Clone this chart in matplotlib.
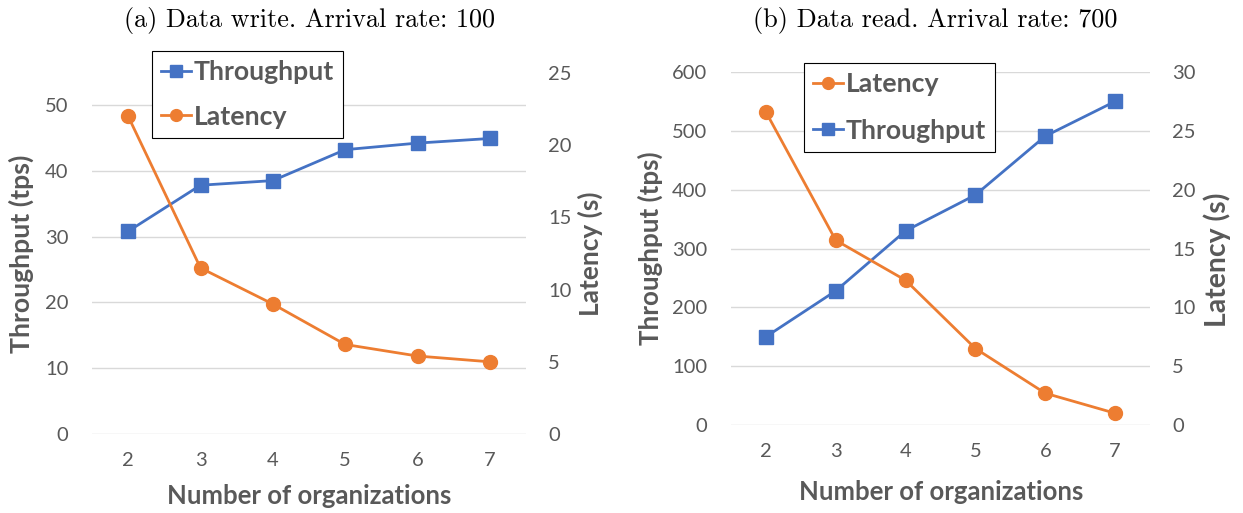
import matplotlib
matplotlib.use("Agg")
import matplotlib.pyplot as plt

orgs = [2, 3, 4, 5, 6, 7]

write_throughput = [30.8, 37.8, 38.5, 43.2, 44.2, 44.9]
write_latency = [22.0, 11.5, 9.0, 6.2, 5.4, 5.0]

read_throughput = [150, 228, 330, 391, 491, 550]
read_latency = [26.6, 15.7, 12.3, 6.5, 2.7, 1.0]

titles = ["(a) Data write. Arrival rate: 100", "(b) Data read. Arrival rate: 700"]
xlabel = "Number of organizations"
ylabel_left = "Throughput (tps)"
ylabel_right = "Latency (s)"

BLUE = "#4472C4"
ORANGE = "#ED7D31"
GRAY = "#595959"
GRID = "#D9D9D9"
SANS = "Lato"
SERIF = "cmr10"

W, H = 1243, 513
fig = plt.figure(figsize=(W / 100, H / 100), dpi=100)
renderer = fig.canvas.get_renderer()


def px_axes(x0, y0, x1, y1):
    return [x0 / W, 1 - y1 / H, (x1 - x0) / W, (y1 - y0) / H]


def fit_size(s, target, **props):
    t = fig.text(0, 0, s, fontsize=10, **props)
    w = t.get_window_extent(renderer).width
    t.remove()
    return 10 * target / w


def ftext(x, y, s, **kw):
    return fig.text(x / W, 1 - y / H, s, ha="center", va="center", **kw)


def style(ax, pad):
    for s in ax.spines.values():
        s.set_visible(False)
    ax.tick_params(axis="y", length=0, labelsize=14.5, labelcolor=GRAY, pad=pad)
    ax.tick_params(axis="x", length=0, labelsize=14.5, labelcolor=GRAY, pad=13)
    for lab in ax.get_xticklabels() + ax.get_yticklabels():
        lab.set_fontfamily(SANS)


bold = dict(family=SANS, weight="bold")

configs = [
    dict(rect=(92, 73, 526, 434), tp=write_throughput, lat=write_latency,
         tp_lim=(0, 54.85), tp_ticks=[0, 10, 20, 30, 40, 50],
         lat_lim=(0, 25), lat_ticks=[0, 5, 10, 15, 20, 25],
         order=["tp", "lat"], leg=(152, 51), leg_w=141, leg_sp=0.76,
         title=titles[0], title_xy=(309, 20), title_w=370,
         xl_xy=(309, 496), xl_w=285,
         yl_xy=(21, 254), yl_w=198, yr_xy=(590, 254), yr_w=125),
    dict(rect=(731, 72, 1150, 425), tp=read_throughput, lat=read_latency,
         tp_lim=(0, 600), tp_ticks=[0, 100, 200, 300, 400, 500, 600],
         lat_lim=(0, 30), lat_ticks=[0, 5, 10, 15, 20, 25, 30],
         order=["lat", "tp"], leg=(804, 63), leg_w=141, leg_sp=0.84,
         title=titles[1], title_xy=(935, 20), title_w=365,
         xl_xy=(941, 492), xl_w=285,
         yl_xy=(650, 248), yl_w=193, yr_xy=(1217, 260), yr_w=135),
]

for c in configs:
    ax = fig.add_axes(px_axes(*c["rect"]))
    ax2 = ax.twinx()
    ax.set_xlim(1.5, 7.5)
    ax.set_ylim(*c["tp_lim"])
    ax.set_yticks(c["tp_ticks"])
    ax2.set_ylim(*c["lat_lim"])
    ax2.set_yticks(c["lat_ticks"])
    ax.set_xticks(orgs)
    ax.yaxis.grid(True, color=GRID, linewidth=1)
    ax.set_axisbelow(True)

    h_tp, = ax.plot(orgs, c["tp"], color=BLUE, marker="s", markersize=9.5,
                    linewidth=2, label="Throughput")
    h_lat, = ax2.plot(orgs, c["lat"], color=ORANGE, marker="o", markersize=10,
                      linewidth=2, label="Latency")
    style(ax, 17)
    style(ax2, 16)

    ts = fit_size(c["title"], c["title_w"], family=SERIF)
    ftext(*c["title_xy"], c["title"], family=SERIF, fontsize=ts, color="black")
    xs = fit_size(xlabel, c["xl_w"], **bold)
    ftext(*c["xl_xy"], xlabel, fontsize=xs, color=GRAY, **bold)
    ys = fit_size(ylabel_left, c["yl_w"], **bold)
    ftext(*c["yl_xy"], ylabel_left, fontsize=ys, color=GRAY, rotation=90, **bold)
    rs = fit_size(ylabel_right, c["yr_w"], **bold)
    ftext(*c["yr_xy"], ylabel_right, fontsize=rs, color=GRAY, rotation=90, **bold)

    ls = fit_size("Throughput", c["leg_w"], **bold)
    hmap = {"tp": h_tp, "lat": h_lat}
    handles = [hmap[k] for k in c["order"]]
    leg = ax2.legend(handles=handles, loc="upper left",
                     bbox_to_anchor=(c["leg"][0] / W, 1 - c["leg"][1] / H),
                     bbox_transform=fig.transFigure, borderaxespad=0,
                     frameon=True, fancybox=False, framealpha=1,
                     edgecolor="black", handlelength=1.1, handletextpad=0.12,
                     labelspacing=c["leg_sp"], borderpad=0.35, markerscale=0.85,
                     prop=dict(family=SANS, weight="bold", size=ls))
    leg.get_frame().set_linewidth(0.8)
    for t in leg.get_texts():
        t.set_color(GRAY)

fig.savefig("out.png", dpi=100)
